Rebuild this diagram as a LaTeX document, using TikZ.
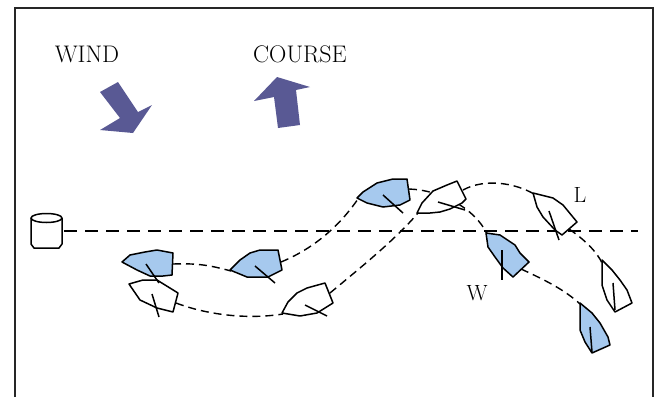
\documentclass[tikz,border=0pt]{standalone}
\usepackage{tikz}
\definecolor{hullblue}{RGB}{166,201,238}
\definecolor{arrowblue}{RGB}{89,89,148}
\tikzset{%
       boat/.style = {draw=black, line width=1.5pt, line join=round},
   blueboat/.style = {boat, fill=hullblue},
  whiteboat/.style = {boat, fill=white},
       boom/.style = {draw=black, line width=1.5pt},
      track/.style = {draw=black, line width=1.4pt, dash pattern=on 8pt off 5pt},
   markline/.style = {draw=black, line width=1.6pt, dash pattern=on 13pt off 8pt},
   bigarrow/.style = {fill=arrowblue, draw=none},
        tag/.style = {inner sep=0pt, font=\fontsize{22}{22}\selectfont},
    heading/.style = {inner sep=0pt, font=\fontsize{24}{24}\selectfont},
}
\begin{document}
\begin{tikzpicture}[x=1pt, y=-1pt]
  \useasboundingbox (0,0) rectangle (658,397);
  \draw[line width=1.5pt, draw=black!85] (15,397) |- (653,8) -- (653,397);

  \node (onWIND)   [heading] at (87,54)  {WIND};
  \node (onCOURSE) [heading] at (300,54) {COURSE};
  \node (onL)      [tag]     at (580,195) {L};
  \node (onW)      [tag]     at (477,293) {W};

  \fill[bigarrow] (100,92) -- (118,82) -- (138,112) -- (152,105) -- (133,133) -- (100,130) -- (120,118) -- cycle;
  \fill[bigarrow] (278,128) -- (300,125) -- (296,90) -- (310,87) -- (277,77) -- (254,101) -- (274,97) -- cycle;

  \coordinate (buoyside) at (64,231);
  \coordinate (markend)  at (638,231);
  \coordinate (b1s) at (173,264); \coordinate (b2b) at (231,271);
  \coordinate (b2s) at (281,262); \coordinate (b3b) at (358,199);
  \coordinate (b3s) at (409,189); \coordinate (b4b) at (487,234);
  \coordinate (b4s) at (521,269); \coordinate (b5b) at (580,304);
  \coordinate (w1s) at (176,303); \coordinate (w2b) at (283,314);
  \coordinate (w2s) at (330,293); \coordinate (w3b) at (418,213);
  \coordinate (w3s) at (463,190); \coordinate (w4b) at (534,194);
  \coordinate (w4s) at (569,229); \coordinate (w5b) at (602,263);

  \draw[markline] (buoyside) -- (markend);
  \draw[boat, fill=white] (31,218) -- (31,244) -- (34,248) -- (59,248) -- (62,244) -- (62,218);
  \draw[boat, fill=white] (46.5,218) ellipse [x radius=15.5pt, y radius=4.5pt];

  \draw[track] (b1s) .. controls (200,263) and (212,266) .. (b2b);
  \draw[track] (b2s) .. controls (315,248) and (340,225) .. (b3b);
  \draw[track] (b3s) .. controls (440,190) and (475,208) .. (b4b);
  \draw[track] (b4s) .. controls (545,280) and (565,290) .. (b5b);
  \draw[track] (w1s) .. controls (205,314) and (245,320) .. (w2b);
  \draw[track] (w2s) .. controls (360,268) and (395,240) .. (w3b);
  \draw[track] (w3s) .. controls (485,178) and (515,183) .. (w4b);
  \draw[track] (w4s) .. controls (585,240) and (597,252) .. (w5b);

  \draw[whiteboat] (129,284) -- (143,280) -- (157,280) -- (178,293) -- (173,312) -- (157,308) -- (140,300) -- cycle;
  \draw[boom] (152,294) -- (159,317);
  \draw[blueboat] (122,262) -- (130,255) -- (145,252) -- (157,250) -- (173,253) -- (172,275) -- (163,276) -- (150,276) -- (137,270) -- cycle;
  \draw[boom] (146,264) -- (159,283);

  \draw[blueboat] (230,270) -- (240,260) -- (250,253) -- (260,250) -- (278,250) -- (282,270) -- (268,277) -- (247,277) -- cycle;
  \draw[boom] (255,266) -- (275,283);
  \draw[whiteboat] (282,313) -- (288,302) -- (297,293) -- (307,288) -- (325,283) -- (333,303) -- (317,313) -- (300,316) -- cycle;
  \draw[boom] (305,305) -- (327,316);

  \draw[blueboat] (357,198) -- (363,192) -- (377,183) -- (393,179) -- (407,179) -- (410,200) -- (400,205) -- (383,207) -- (367,203) -- cycle;
  \draw[boom] (383,195) -- (403,213);
  \draw[whiteboat] (417,213) -- (422,203) -- (433,191) -- (447,185) -- (457,181) -- (466,199) -- (462,203) -- (450,209) -- (440,212) -- (430,213) -- cycle;
  \draw[boom] (438,202) -- (465,210);

  \draw[blueboat] (486,233) -- (500,235) -- (515,245) -- (520,253) -- (529,262) -- (513,277) -- (503,268) -- (495,257) -- (488,247) -- cycle;
  \draw[boom] (502,250) -- (502,280);
  \draw[whiteboat] (533,193) -- (553,198) -- (563,205) -- (577,222) -- (562,235) -- (555,230) -- (543,217) -- (537,207) -- cycle;
  \draw[boom] (549,211) -- (559,240);

  \draw[blueboat] (580,303) -- (592,313) -- (600,323) -- (608,337) -- (610,345) -- (592,353) -- (585,342) -- (580,330) -- cycle;
  \draw[boom] (590,327) -- (592,352);
  \draw[whiteboat] (602,260) -- (612,270) -- (620,280) -- (627,290) -- (632,303) -- (615,312) -- (607,300) -- (602,285) -- cycle;
  \draw[boom] (613,283) -- (615,310);
\end{tikzpicture}
\end{document}
